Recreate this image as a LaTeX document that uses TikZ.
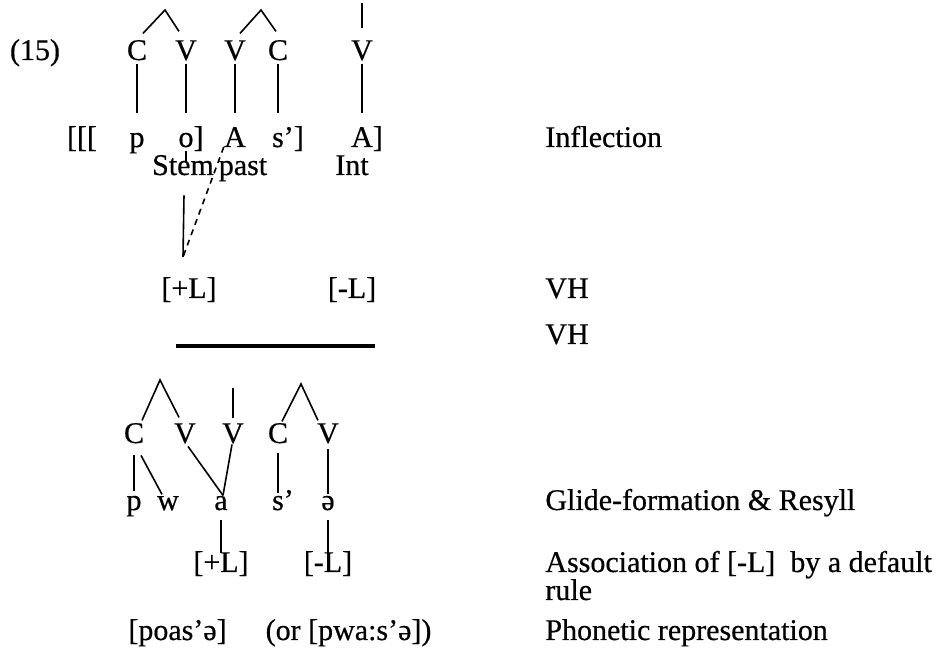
\documentclass[tikz,border=0pt]{standalone}
\usepackage{fontspec}
\setmainfont{Liberation Serif}[FakeBold=0.5]
\usetikzlibrary{calc}

\begin{document}
\begin{tikzpicture}[x=0.5pt, y=-0.5pt,
  font=\fontsize{15}{14}\selectfont,
  seg/.style={anchor=base, inner sep=0pt, text height=0.66em, text depth=0.2em},
  gloss/.style={anchor=base west, inner sep=0pt, align=left},
  assoc/.style={line width=0.8pt},
  delink/.style={assoc, dash pattern=on 3pt off 2.5pt}]
\useasboundingbox (0,0) rectangle (944,657);

% input: skeleton over the morphemes
\node[seg] (ex) at (35,60) {(15)};
\node[seg] (c1) at (137,60) {C};
\node[seg] (v1) at (186,60) {V};
\node[seg] (v2) at (235,60) {V};
\node[seg] (c2) at (278,60) {C};
\node[seg] (v3) at (362,60) {V};
\coordinate (syl1) at (165,10);
\coordinate (syl2) at (261,10);
\coordinate (syl3) at (362,3);
\draw[assoc] ($(c1.north)+(6,-13)$) -- (syl1) -- ($(v1.north)+(-7,-15)$);
\draw[assoc] ($(v2.north)+(5,-13)$) -- (syl2) -- ($(c2.north)+(-2,-15)$);
\draw[assoc] ($(v3.north)+(0,-18)$) -- (syl3);

\node[seg] (brk) at (82,147) {[[[};
\node[seg] (p) at (137,147) {p};
\node[seg] (o) at (186,147) {o\rlap{]}};
\node[seg] (a1) at (235,147) {A};
\node[seg] (s) at (278,147) {s\rlap{’]}};
\node[seg] (a2) at (362,147) {A\rlap{]}};
\foreach \u/\l in {c1/p, v1/o, v2/a1, c2/s, v3/a2}
  \draw[assoc, shorten >=10pt] (\u.south) -- (\l.north);

\node[seg] (stem) at (183,175) {Stem};
\node[seg] (past) at (243,175) {past};
\node[seg] (int) at (352,175) {Int};
\draw[assoc, shorten >=4pt] (o.south) -- (o.south |- stem.center);

% harmony features
\coordinate (meet) at (183,257);
\draw[assoc] ($(stem.south)+(1,16)$) -- (meet);
\draw[delink] (a1.base west) -- (meet);
\node[seg] (hiL) at (189,298) {[+L]};
\node[seg] (loL) at (352,298) {[-L]};

\coordinate (barL) at (176,346);
\coordinate (barR) at (375,346);
\draw[line width=1.6pt] (barL) -- (barR);

% output after glide formation
\node[seg] (c3) at (134,443) {C};
\node[seg] (v4) at (185,443) {V};
\node[seg] (v5) at (233,443) {V};
\node[seg] (c4) at (278,443) {C};
\node[seg] (v6) at (328,443) {V};
\coordinate (syl4) at (160,380);
\coordinate (syl5) at (233,388);
\coordinate (syl6) at (301,384);
\draw[assoc] ($(c3.north)+(8,-9)$) -- (syl4) -- ($(v4.north)+(-6,-12)$);
\draw[assoc] ($(v5.north)+(0,-11)$) -- (syl5);
\draw[assoc] ($(c4.north)+(4,-8)$) -- (syl6) -- ($(v6.north)+(-10,-9)$);

\node[seg] (p2) at (134,510) {p};
\node[seg] (w) at (168,510) {w};
\node[seg] (a) at (221,510) {a};
\node[seg] (s2) at (278,510) {s\rlap{’}};
\node[seg] (schwa) at (328,510) {ə};
\draw[assoc, shorten <=4pt, shorten >=2.5pt] (c3.south) -- (p2.north);
\draw[assoc] ($(c3.south)+(7,8)$) -- ($(w.north)+(-6,-2)$);
\draw[assoc] ($(v4.south)+(3,-1)$) -- ($(a.north)+(2,-1)$);
\draw[assoc] ($(v5.south)+(-1,-3)$) -- ($(a.north)+(2,-1)$);
\draw[assoc, shorten <=3pt, shorten >=1.5pt] (c4.south) -- (s2.north);
\draw[assoc, shorten <=1pt, shorten >=1pt] (v6.south) -- (schwa.north);

\node[seg] (hiL2) at (221,572) {[+L]};
\node[seg] (loL2) at (328,572) {[-L]};
\draw[assoc, shorten <=3pt, shorten >=2.5pt] (a.south) -- (hiL2.north);
\draw[assoc, shorten <=3pt, shorten >=2.5pt] (schwa.south) -- (loL2.north);

\node[gloss] (phon) at (128,640) {[poas’ə]\hspace{1.3em}(or [pwa:s’ə])};

% rule labels
\node[gloss] (infl) at (545,147) {Inflection};
\node[gloss] (vh1) at (545,298) {VH};
\node[gloss] (vh2) at (545,344) {VH};
\node[gloss] (glide) at (545,510) {Glide-formation \& Resyll};
\node[gloss] (dflt) at (545,600) {Association of [-L]\ \ by a default\\rule};
\node[gloss] (phonrep) at (545,640) {Phonetic representation};
\end{tikzpicture}
\end{document}
